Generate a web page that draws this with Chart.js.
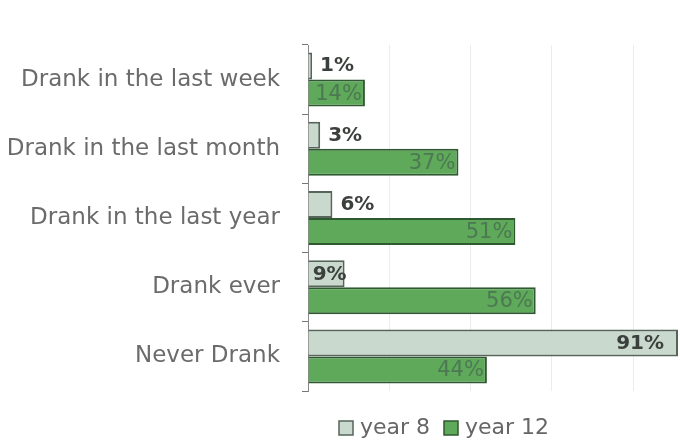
<!DOCTYPE html>
<html lang="en">
<head>
<meta charset="UTF-8">
<title>Drinking by year</title>
<style>
    body { margin: 0; background: #fff; }
    #wrap { width: 680px; height: 441px; }
</style>
</head>
<body>
<div id="wrap"><canvas id="barChart" width="680" height="441"></canvas></div>
<script src="https://cdn.jsdelivr.net/npm/chart.js"></script>
<script>
    const categories = ['Drank in the last week', 'Drank in the last month', 'Drank in the last year', 'Drank ever', 'Never Drank'];
    const year8 = [1, 3, 6, 9, 91];
    const year12 = [14, 37, 51, 56, 44];
    const seriesNames = ['year 8', 'year 12'];

    const FONT = '"DejaVu Sans", "Open Sans", sans-serif';
    const fill8 = '#c9d9cd', border8 = '#56655a';
    const fill12 = '#5ea95a', border12 = '#2f5a31';

    // value labels: small year 8 values sit outside, the rest inside end
    const valueLabels = {
        id: 'valueLabels',
        afterDatasetsDraw(chart) {
            const ctx = chart.ctx;
            ctx.save();
            ctx.textBaseline = 'middle';
            chart.data.datasets.forEach((ds, di) => {
                chart.getDatasetMeta(di).data.forEach((bar, i) => {
                    const v = ds.data[i];
                    const txt = v + '%';
                    if (di === 0) {
                        ctx.font = 'bold 20px ' + FONT;
                        ctx.fillStyle = '#3c403d';
                        if (v > 50) {
                            ctx.textAlign = 'right';
                            ctx.fillText(txt, bar.x - 14, bar.y + 1);
                        } else if (v >= 9) {
                            ctx.textAlign = 'right';
                            ctx.fillText(txt, bar.x + 2, bar.y + 1);
                        } else {
                            ctx.textAlign = 'left';
                            ctx.fillText(txt, bar.x + 8, bar.y);
                        }
                    } else {
                        ctx.font = '21px ' + FONT;
                        ctx.fillStyle = 'rgba(70,100,80,0.7)';
                        ctx.textAlign = 'right';
                        ctx.fillText(txt, bar.x - 3, bar.y + 1);
                    }
                });
            });
            ctx.restore();
        }
    };

    // legend drawn below the plot
    const bottomLegend = {
        id: 'bottomLegend',
        afterDraw(chart) {
            const ctx = chart.ctx;
            const items = [[seriesNames[0], fill8, border8, 339], [seriesNames[1], fill12, border12, 444]];
            ctx.save();
            ctx.font = '22px ' + FONT;
            ctx.textBaseline = 'middle';
            ctx.textAlign = 'left';
            items.forEach(([name, f, b, x]) => {
                ctx.fillStyle = f;
                ctx.strokeStyle = b;
                ctx.lineWidth = 1.5;
                ctx.fillRect(x, 421, 14, 14);
                ctx.strokeRect(x, 421, 14, 14);
                ctx.fillStyle = '#666';
                ctx.fillText(name, x + 21, 428);
            });
            ctx.restore();
        }
    };

    new Chart(document.getElementById('barChart'), {
        type: 'bar',
        data: {
            labels: categories,
            datasets: [{
                label: seriesNames[0],
                data: year8,
                backgroundColor: fill8,
                borderColor: border8,
                borderWidth: 2,
                categoryPercentage: 0.78,
                barPercentage: 1
            }, {
                label: seriesNames[1],
                data: year12,
                backgroundColor: fill12,
                borderColor: border12,
                borderWidth: 2,
                categoryPercentage: 0.78,
                barPercentage: 1
            }]
        },
        options: {
            indexAxis: 'y',
            responsive: false,
            animation: false,
            layout: { padding: { top: 45, bottom: 50, right: 2, left: 0 } },
            plugins: {
                legend: { display: false },
                tooltip: { enabled: false }
            },
            scales: {
                x: {
                    min: 0,
                    max: 91,
                    ticks: { display: false, stepSize: 20 },
                    grid: {
                        color: (c) => (c.tick && c.tick.value % 20 === 0 && c.tick.value > 0) ? '#ececec' : 'rgba(0,0,0,0)',
                        drawTicks: false
                    },
                    border: { display: false }
                },
                y: {
                    afterFit: (scale) => { scale.width = 308; },
                    ticks: {
                        color: '#6b6b6b',
                        font: { family: FONT, size: 23 },
                        padding: 22
                    },
                    grid: { display: true, offset: true, drawOnChartArea: false, drawTicks: true, tickLength: 6, color: '#777' },
                    border: { display: true, color: '#888', width: 1 }
                }
            }
        },
        plugins: [valueLabels, bottomLegend]
    });
</script>
</body>
</html>
